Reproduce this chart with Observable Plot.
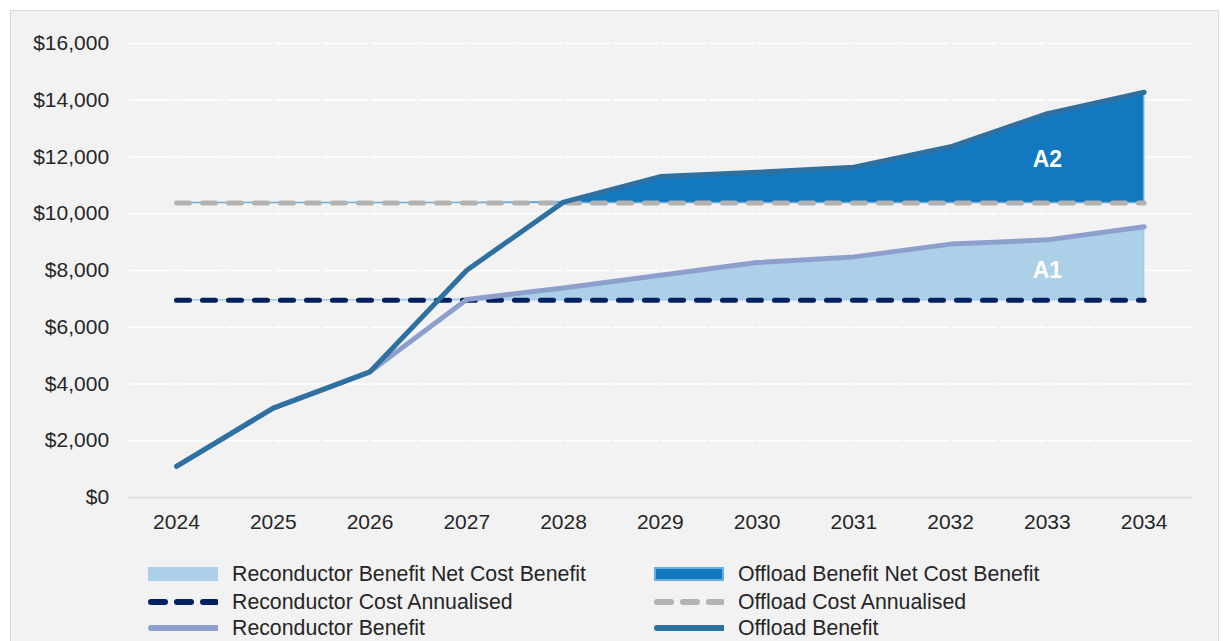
<!DOCTYPE html>
<html>
<head>
<meta charset="utf-8">
<script src="https://cdn.jsdelivr.net/npm/d3@7"></script>
<script src="https://cdn.jsdelivr.net/npm/@observablehq/plot@0.6"></script>
<style>
  html, body { margin: 0; padding: 0; background: #ffffff; }
  body { width: 1223px; height: 641px; overflow: hidden; position: relative; font-family: "Liberation Sans", Arial, sans-serif; }
  #panel { position: absolute; left: 10px; top: 10px; width: 1209px; height: 660px; background: #f2f2f2; border: 1px solid #d9d9d9; box-sizing: border-box; }
  #chart { position: absolute; left: 0px; top: 0px; }
  .leg { position: absolute; display: flex; align-items: center; height: 24px; font-size: 21.3px; line-height: 24px; color: #262626; white-space: nowrap; }
  .leg svg { margin-right: 14px; }
</style>
</head>
<body>
<div id="panel">
  <div id="chart"></div>
  <div id="legend"></div>
</div>
<script>
// ---- data ----
const years = [2024, 2025, 2026, 2027, 2028, 2029, 2030, 2031, 2032, 2033, 2034];
const reconductorBenefit = [1100, 3150, 4430, 6980, 7380, 7830, 8280, 8480, 8930, 9080, 9540];
const offloadBenefit     = [1100, 3150, 4430, 8010, 10410, 11310, 11460, 11640, 12360, 13530, 14280];
const reconductorCost    = [6950, 6950, 6950, 6950, 6950, 6950, 6950, 6950, 6950, 6950, 6950];
const offloadCost        = [10380, 10380, 10380, 10380, 10380, 10380, 10380, 10380, 10380, 10380, 10380];
const yTicks = [0, 2000, 4000, 6000, 8000, 10000, 12000, 14000, 16000];
const areaLabels = [
  {year: 2033, value: 11920, text: "A2"},
  {year: 2033, value: 8000, text: "A1"}
];
const legendItems = [
  {label: "Reconductor Benefit Net Cost Benefit", kind: "area", fill: "#abd0e8", stroke: "#abd0e8"},
  {label: "Offload Benefit Net Cost Benefit", kind: "area", fill: "#1279c1", stroke: "#6aaee0"},
  {label: "Reconductor Cost Annualised", kind: "dash", stroke: "#002060"},
  {label: "Offload Cost Annualised", kind: "dash", stroke: "#b3b3b3"},
  {label: "Reconductor Benefit", kind: "line", stroke: "#8f9fcd"},
  {label: "Offload Benefit", kind: "line", stroke: "#2e70a0"}
];

const rows = years.map((year, i) => ({
  year,
  rb: reconductorBenefit[i],
  ob: offloadBenefit[i],
  rc: reconductorCost[i],
  oc: offloadCost[i]
}));

const chart = Plot.plot({
  width: 1207,
  height: 526,
  marginLeft: 116.6,
  marginRight: 26,
  marginTop: 32,
  marginBottom: 40,
  style: {background: "transparent", fontFamily: "'Liberation Sans', Arial, sans-serif", fontSize: "21px", color: "#262626", overflow: "visible"},
  x: {domain: [2023.5, 2034.5], label: null},
  y: {domain: [0, 16000], label: null},
  marks: [
    Plot.ruleY(yTicks.filter(d => d > 0), {stroke: "#ffffff", strokeWidth: 1.6, strokeDasharray: "46,2.4", strokeDashoffset: -1.2}),
    Plot.ruleY([0], {stroke: "#d9d9d9", strokeWidth: 1.6}),
    Plot.areaY(rows, {x: "year", y1: "rc", y2: d => Math.max(d.rb, d.rc), fill: "#abd0e8", fillOpacity: 1, stroke: "#9fcae8", strokeWidth: 1.5}),
    Plot.areaY(rows, {x: "year", y1: "oc", y2: d => Math.max(d.ob, d.oc), fill: "#1279c1", fillOpacity: 1, stroke: "#6aaee0", strokeWidth: 1.5}),
    Plot.lineY(rows, {x: "year", y: "rc", stroke: "#002060", strokeWidth: 5, strokeDasharray: "13,13", strokeLinecap: "round"}),
    Plot.lineY(rows, {x: "year", y: "oc", stroke: "#b3b3b3", strokeWidth: 5, strokeDasharray: "13,13", strokeLinecap: "round"}),
    Plot.lineY(rows, {x: "year", y: "rb", stroke: "#8f9fcd", strokeWidth: 5, strokeLinejoin: "round", strokeLinecap: "round"}),
    Plot.lineY(rows, {x: "year", y: "ob", stroke: "#2e70a0", strokeWidth: 5, strokeLinejoin: "round", strokeLinecap: "round"}),
    Plot.text(areaLabels, {x: "year", y: "value", text: "text", fill: "#ffffff", fontWeight: "bold", fontSize: 23, fontFamily: "'Liberation Sans', Arial, sans-serif"}),
    Plot.axisX({ticks: years, tickFormat: d => String(d), tickSize: 0, tickPadding: 17, label: null}),
    Plot.axisY({ticks: yTicks, tickFormat: d => "$" + d3.format(",")(d), tickSize: 0, tickPadding: 19, label: null})
  ]
});
document.getElementById("chart").appendChild(chart);

// ---- legend ----
const legend = document.getElementById("legend");
const colX = [137, 643];   // swatch left (panel coords)
const rowY = [551, 579, 605]; // row top (panel coords)
legendItems.forEach((item, i) => {
  const col = i % 2, row = Math.floor(i / 2);
  const div = document.createElement("div");
  div.className = "leg";
  div.style.left = colX[col] + "px";
  div.style.top = rowY[row] + "px";
  let sw;
  if (item.kind === "area") {
    sw = `<svg width="70" height="24"><rect x="1" y="6" width="68" height="12" fill="${item.fill}" stroke="${item.stroke}" stroke-width="2"/></svg>`;
  } else if (item.kind === "dash") {
    sw = `<svg width="70" height="24"><line x1="3" y1="12" x2="68" y2="12" stroke="${item.stroke}" stroke-width="6" stroke-linecap="round" stroke-dasharray="14,12"/></svg>`;
  } else {
    sw = `<svg width="70" height="24"><line x1="3" y1="12" x2="69" y2="12" stroke="${item.stroke}" stroke-width="6" stroke-linecap="round"/></svg>`;
  }
  div.innerHTML = sw + `<span>${item.label}</span>`;
  legend.appendChild(div);
});
</script>
</body>
</html>
